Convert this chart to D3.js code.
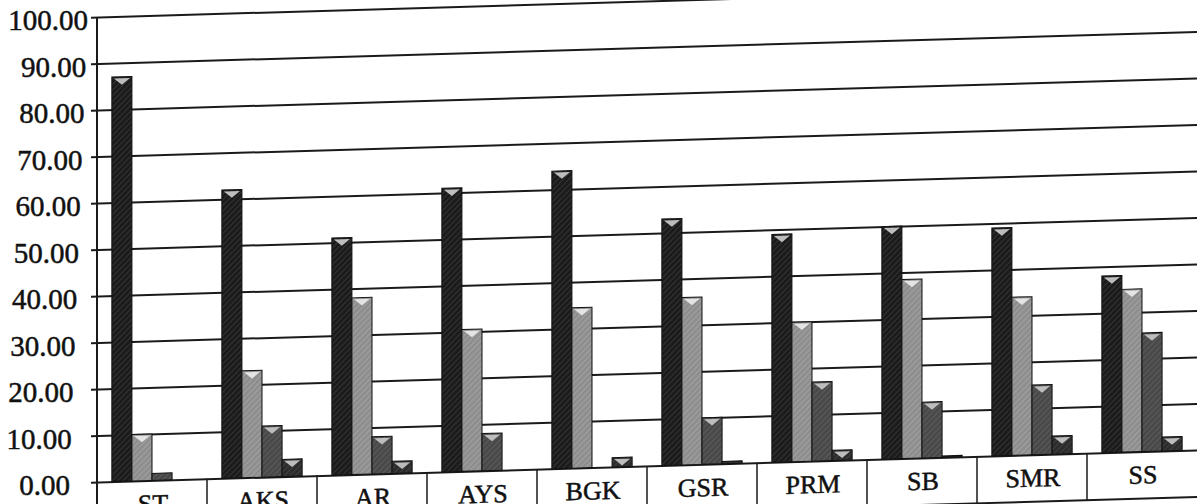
<!DOCTYPE html>
<html>
<head>
<meta charset="utf-8">
<script src="https://cdn.jsdelivr.net/npm/d3@7"></script>
<style>
  html, body { margin: 0; padding: 0; background: #fff; }
  text { font-family: "Liberation Serif", "DejaVu Serif", serif; fill: #111; stroke: #111; stroke-width: 0.5px; }
</style>
</head>
<body>
<div id="chart"></div>
<script>
// values
var categories = ["ST", "AKS", "AR", "AYS", "BGK", "GSR", "PRM", "SB", "SMR", "SS"];
var series1 = [87, 62, 51, 61, 64, 53, 49, 50, 49, 38];
var series2 = [10, 23, 38, 30.5, 34.5, 36, 30, 38.5, 34, 35];
var series3 = [1.5, 11, 8, 8, 0, 10, 17, 12, 15, 25.5];
var series4 = [0, 3.7, 2.6, 0, 2, 0.5, 2.2, 0.3, 3.9, 3];
var yTicks = [0, 10, 20, 30, 40, 50, 60, 70, 80, 90, 100];

var seriesNames = ["s1", "s2", "s3", "s4"];
var allSeries = [series1, series2, series3, series4];
var fills = {
    s1: ["#1b1b1b", "#3c3c3c"],
    s2: ["#8e8e8e", "#a9a9a9"],
    s3: ["#494949", "#626262"],
    s4: ["#2c2c2c", "#474747"]
};

var width = 1198;
var height = 504;
var marginLeft = 97, marginTop = 17;
var plotW = 1100, plotH = 465;

var svg = d3.select('#chart')
    .append('svg')
    .attr('width', width)
    .attr('height', height);

// hatch patterns like the printed bars
var defs = svg.append('defs');
seriesNames.forEach(function(s) {
    var p = defs.append('pattern')
        .attr('id', 'hatch-' + s)
        .attr('patternUnits', 'userSpaceOnUse')
        .attr('width', 4)
        .attr('height', 4)
        .attr('patternTransform', 'rotate(45)');
    p.append('rect').attr('width', 4).attr('height', 4).attr('fill', fills[s][0]);
    p.append('line').attr('x1', 0).attr('y1', 0).attr('x2', 0).attr('y2', 4)
        .attr('stroke', fills[s][1]).attr('stroke-width', 1.5);
});

var x0 = d3.scaleBand()
    .domain(categories)
    .range([0, plotW])
    .paddingInner(0.27)
    .paddingOuter(0.135);

var x1 = d3.scaleBand()
    .domain(seriesNames)
    .range([0, x0.bandwidth()]);

var y = d3.scaleLinear()
    .domain([0, 100])
    .range([plotH, 0]);

// the photo is tilted: gridlines rise to the right
var plot = svg.append('g')
    .attr('transform', 'translate(' + marginLeft + ',' + marginTop + ') skewY(-1.67)');

plot.append('g')
    .call(d3.axisLeft(y).tickValues(yTicks).tickSize(-plotW).tickFormat(''))
    .call(function(g) { g.select('.domain').remove(); })
    .selectAll('line')
    .attr('stroke', '#1a1a1a')
    .attr('stroke-width', 2)
    .attr('x1', -6);

// category table under the plot
var tableBottom = 512;
plot.append('line')
    .attr('x1', 0).attr('x2', 0)
    .attr('y1', 0).attr('y2', tableBottom + 10)
    .attr('stroke', '#1a1a1a').attr('stroke-width', 2);

plot.append('line')
    .attr('x1', 0).attr('x2', plotW)
    .attr('y1', tableBottom).attr('y2', tableBottom)
    .attr('stroke', '#1a1a1a').attr('stroke-width', 2);

plot.selectAll('.sep')
    .data(categories.slice(1))
    .enter()
    .append('line')
    .attr('class', 'sep')
    .attr('x1', (d) => x0(d) - x0.step() * 0.135)
    .attr('x2', (d) => x0(d) - x0.step() * 0.135)
    .attr('y1', y(0))
    .attr('y2', tableBottom)
    .attr('stroke', '#1a1a1a').attr('stroke-width', 1.5);

plot.selectAll('.cat')
    .data(categories)
    .enter()
    .append('text')
    .attr('class', 'cat')
    .attr('x', (d) => x0(d) + x0.bandwidth() / 2 + 1)
    .attr('y', 497)
    .attr('text-anchor', 'middle')
    .style('font-size', '26px')
    .text((d) => d);

// bars
var groups = plot.selectAll('.grp')
    .data(categories)
    .enter()
    .append('g')
    .attr('class', 'grp')
    .attr('transform', (d) => 'translate(' + x0(d) + ',0)');

var bars = groups.selectAll('.bar')
    .data(function(d, i) {
        return seriesNames.map(function(s, k) { return {s: s, v: allSeries[k][i]}; });
    })
    .enter()
    .filter((d) => d.v > 0)
    .append('g')
    .attr('class', 'bar');

bars.append('rect')
    .attr('x', (d) => x1(d.s))
    .attr('y', (d) => y(d.v))
    .attr('width', x1.bandwidth())
    .attr('height', (d) => y(0) - y(d.v))
    .attr('fill', (d) => 'url(#hatch-' + d.s + ')')
    .attr('stroke', '#111')
    .attr('stroke-width', 1);

// light top caps
bars.filter((d) => y(0) - y(d.v) > 8)
    .append('path')
    .attr('d', function(d) {
        var bx = x1(d.s), by = y(d.v), bw = x1.bandwidth();
        return 'M' + (bx + 2) + ',' + (by + 1.5) + 'L' + (bx + bw - 2) + ',' + (by + 1.5) +
            'L' + (bx + bw / 2) + ',' + (by + 8) + 'Z';
    })
    .attr('fill', (d) => d.s == 's2' ? '#e4e4e4' : '#bdbdbd');

// y labels sit outside the tilted plot, sliding left toward the bottom
svg.append('g')
    .selectAll('text')
    .data(yTicks)
    .enter()
    .append('text')
    .attr('x', (d) => 70 + d * 0.18)
    .attr('y', (d) => marginTop + y(d) + 3)
    .attr('dy', '0.35em')
    .attr('text-anchor', 'end')
    .style('font-size', '29px')
    .text((d) => d3.format('.2f')(d));
</script>
</body>
</html>
